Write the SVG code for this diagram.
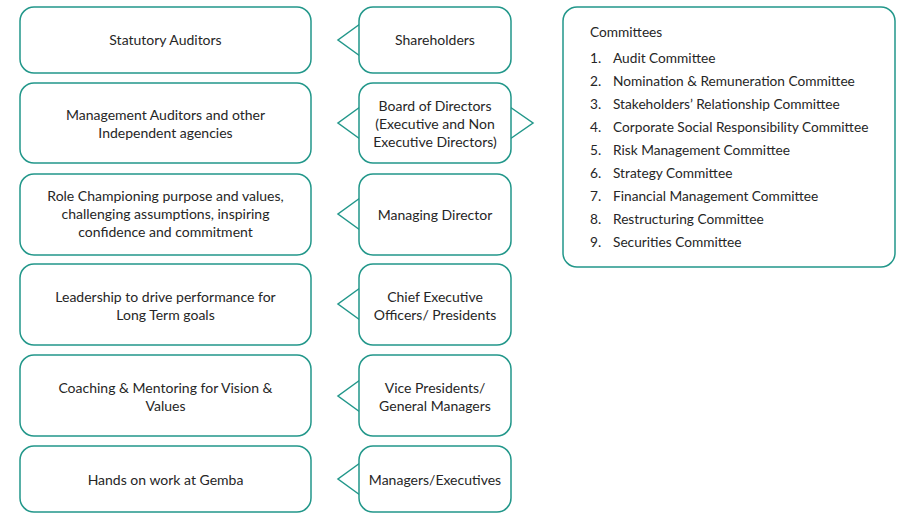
<svg xmlns="http://www.w3.org/2000/svg" width="897" height="513" viewBox="0 0 897 513">
  <style>
    .box { fill: #ffffff; stroke: #22978a; stroke-width: 1.5; }
    .tri { fill: #ffffff; stroke: #22978a; stroke-width: 1.5; stroke-linejoin: miter; }
    text { font-family: "Lato", "Liberation Sans", sans-serif; font-size: 14px; fill: #262626; dominant-baseline: central; }
    .c { text-anchor: middle; }
    .list text { font-size: 13.7px; }
  </style>
  <rect width="897" height="513" fill="#ffffff"/>

  <!-- Left column: roles -->
  <g id="statutory-auditors">
    <rect class="box" x="20" y="7" width="291" height="66" rx="14"/>
    <text class="c" x="165.5" y="39">Statutory Auditors</text>
  </g>
  <g id="management-auditors">
    <rect class="box" x="20" y="83" width="291" height="80" rx="14"/>
    <text class="c" x="165.5" y="114">Management Auditors and other</text>
    <text class="c" x="165.5" y="132">Independent agencies</text>
  </g>
  <g id="role-championing">
    <rect class="box" x="20" y="174" width="291" height="81" rx="14"/>
    <text class="c" x="165.5" y="195">Role Championing purpose and values,</text>
    <text class="c" x="165.5" y="213">challenging assumptions, inspiring</text>
    <text class="c" x="165.5" y="231">confidence and commitment</text>
  </g>
  <g id="leadership">
    <rect class="box" x="20" y="264" width="291" height="81" rx="14"/>
    <text class="c" x="165.5" y="296">Leadership to drive performance for</text>
    <text class="c" x="165.5" y="314">Long Term goals</text>
  </g>
  <g id="coaching">
    <rect class="box" x="20" y="355" width="291" height="81" rx="14"/>
    <text class="c" x="165.5" y="387">Coaching &amp; Mentoring for Vision &amp;</text>
    <text class="c" x="165.5" y="405">Values</text>
  </g>
  <g id="hands-on">
    <rect class="box" x="20" y="446" width="291" height="66" rx="14"/>
    <text class="c" x="165.5" y="479">Hands on work at Gemba</text>
  </g>

  <!-- Pointers from each level to its role -->
  <g id="connectors">
    <path class="tri" d="M360 24 L338 40 L360 56"/>
    <path class="tri" d="M360 107 L338 123 L360 139"/>
    <path class="tri" d="M360 198 L338 214 L360 230"/>
    <path class="tri" d="M360 288 L338 304 L360 320"/>
    <path class="tri" d="M360 380 L338 396 L360 412"/>
    <path class="tri" d="M360 463 L338 479 L360 495"/>
    <path class="tri" d="M510 107 L533 123 L510 139"/>
  </g>

  <!-- Right column: levels -->
  <g id="shareholders">
    <rect class="box" x="359" y="7" width="152" height="66" rx="14"/>
    <text class="c" x="435" y="39">Shareholders</text>
  </g>
  <g id="board-of-directors">
    <rect class="box" x="359" y="83" width="152" height="80" rx="14"/>
    <text class="c" x="435" y="105">Board of Directors</text>
    <text class="c" x="435" y="123">(Executive and Non</text>
    <text class="c" x="435" y="141">Executive Directors)</text>
  </g>
  <g id="managing-director">
    <rect class="box" x="359" y="174" width="152" height="81" rx="14"/>
    <text class="c" x="435" y="214">Managing Director</text>
  </g>
  <g id="ceo">
    <rect class="box" x="359" y="264" width="152" height="81" rx="14"/>
    <text class="c" x="435" y="296">Chief Executive</text>
    <text class="c" x="435" y="314">Officers/ Presidents</text>
  </g>
  <g id="vice-presidents">
    <rect class="box" x="359" y="355" width="152" height="81" rx="14"/>
    <text class="c" x="435" y="387">Vice Presidents/</text>
    <text class="c" x="435" y="405">General Managers</text>
  </g>
  <g id="managers">
    <rect class="box" x="359" y="446" width="152" height="66" rx="14"/>
    <text class="c" x="435" y="479">Managers/Executives</text>
  </g>

  <!-- Committees list -->
  <g id="committees" class="list">
    <rect class="box" x="563" y="7" width="332" height="260" rx="14"/>
    <text x="590" y="31">Committees</text>
    <text x="590" y="57">1.</text><text x="613" y="57">Audit Committee</text>
    <text x="590" y="80">2.</text><text x="613" y="80">Nomination &amp; Remuneration Committee</text>
    <text x="590" y="103">3.</text><text x="613" y="103">Stakeholders’ Relationship Committee</text>
    <text x="590" y="126">4.</text><text x="613" y="126">Corporate Social Responsibility Committee</text>
    <text x="590" y="149">5.</text><text x="613" y="149">Risk Management Committee</text>
    <text x="590" y="172">6.</text><text x="613" y="172">Strategy Committee</text>
    <text x="590" y="195">7.</text><text x="613" y="195">Financial Management Committee</text>
    <text x="590" y="218">8.</text><text x="613" y="218">Restructuring Committee</text>
    <text x="590" y="241">9.</text><text x="613" y="241">Securities Committee</text>
  </g>
</svg>
